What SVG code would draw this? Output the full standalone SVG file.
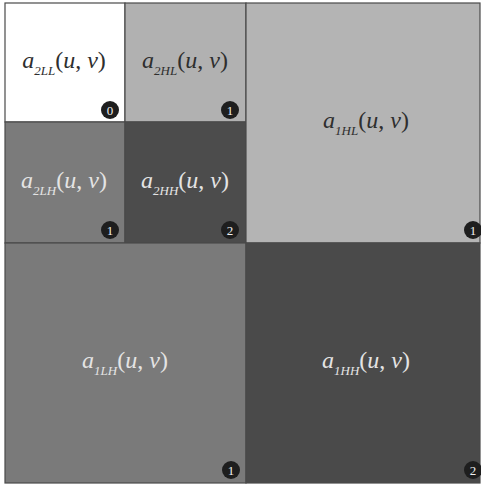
<svg xmlns="http://www.w3.org/2000/svg" width="481" height="486" viewBox="0 0 481 486">
<style>
.cell{stroke:#4a4a4a;stroke-width:1.2}
.lbl{font-family:"Liberation Serif",serif;font-size:24px;text-anchor:middle}
.it{font-style:italic}
.sub{font-size:13px;font-style:italic}
.dk{fill:#2e2e2e}
.lt{fill:#e4e4e4}
.badge{fill:#1e1e1e}
.num{font-family:"Liberation Serif",serif;font-size:13px;fill:#f0f0f0;text-anchor:middle}
</style>
<rect width="481" height="486" fill="#ffffff"/>
<g id="a2LL">
<rect class="cell" x="5" y="3" width="120" height="119" fill="#ffffff"/>
<text class="lbl dk" x="64" y="68"><tspan class="it">a</tspan><tspan class="sub" dy="7">2LL</tspan><tspan dy="-7">(</tspan><tspan class="it">u</tspan>, <tspan class="it">v</tspan>)</text>
<circle class="badge" cx="110" cy="110" r="9"/><text class="num" x="110" y="114.5">0</text>
</g>
<g id="a2HL">
<rect class="cell" x="125" y="3" width="121" height="119" fill="#b1b1b1"/>
<text class="lbl dk" x="185" y="68"><tspan class="it">a</tspan><tspan class="sub" dy="7">2HL</tspan><tspan dy="-7">(</tspan><tspan class="it">u</tspan>, <tspan class="it">v</tspan>)</text>
<circle class="badge" cx="230" cy="110" r="9"/><text class="num" x="230" y="114.5">1</text>
</g>
<g id="a2LH">
<rect class="cell" x="5" y="122" width="120" height="121" fill="#7b7b7b"/>
<text class="lbl lt" x="64" y="188"><tspan class="it">a</tspan><tspan class="sub" dy="7">2LH</tspan><tspan dy="-7">(</tspan><tspan class="it">u</tspan>, <tspan class="it">v</tspan>)</text>
<circle class="badge" cx="110" cy="230" r="9"/><text class="num" x="110" y="234.5">1</text>
</g>
<g id="a2HH">
<rect class="cell" x="125" y="122" width="121" height="121" fill="#4c4c4c"/>
<text class="lbl lt" x="185" y="188"><tspan class="it">a</tspan><tspan class="sub" dy="7">2HH</tspan><tspan dy="-7">(</tspan><tspan class="it">u</tspan>, <tspan class="it">v</tspan>)</text>
<circle class="badge" cx="230" cy="230" r="9"/><text class="num" x="230" y="234.5">2</text>
</g>
<g id="a1HL">
<rect class="cell" x="246" y="3" width="234" height="240" fill="#b4b4b4"/>
<text class="lbl dk" x="366" y="128"><tspan class="it">a</tspan><tspan class="sub" dy="7">1HL</tspan><tspan dy="-7">(</tspan><tspan class="it">u</tspan>, <tspan class="it">v</tspan>)</text>
<circle class="badge" cx="473" cy="230" r="9"/><text class="num" x="473" y="234.5">1</text>
</g>
<g id="a1LH">
<rect class="cell" x="5" y="243" width="241" height="240" fill="#7a7a7a"/>
<text class="lbl lt" x="125" y="368"><tspan class="it">a</tspan><tspan class="sub" dy="7">1LH</tspan><tspan dy="-7">(</tspan><tspan class="it">u</tspan>, <tspan class="it">v</tspan>)</text>
<circle class="badge" cx="231" cy="470" r="9"/><text class="num" x="231" y="474.5">1</text>
</g>
<g id="a1HH">
<rect class="cell" x="246" y="243" width="234" height="240" fill="#4a4a4a"/>
<text class="lbl lt" x="366" y="368"><tspan class="it">a</tspan><tspan class="sub" dy="7">1HH</tspan><tspan dy="-7">(</tspan><tspan class="it">u</tspan>, <tspan class="it">v</tspan>)</text>
<circle class="badge" cx="473" cy="470" r="9"/><text class="num" x="473" y="474.5">2</text>
</g>
<g id="connectors"></g>
</svg>
